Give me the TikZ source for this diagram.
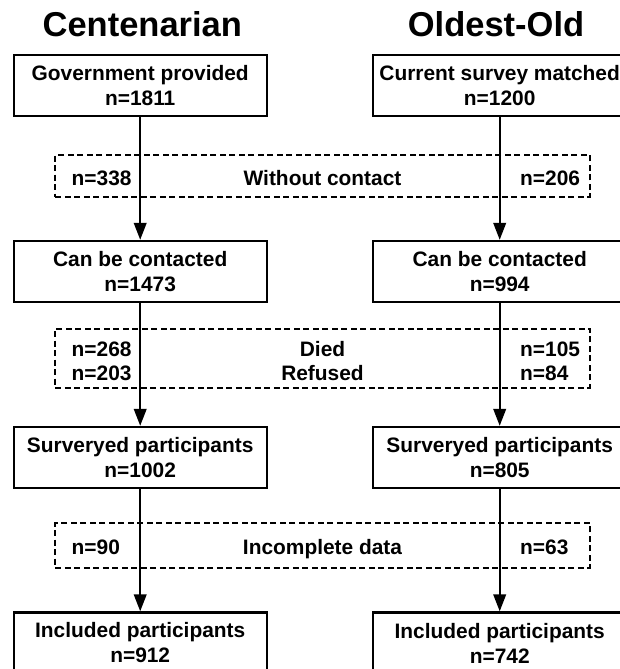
\documentclass[tikz,border=0pt]{standalone}
\usepackage{fontspec}
\setmainfont{Liberation Sans}
\usetikzlibrary{arrows.meta}
\newcommand{\bxfont}{\fontsize{20.9}{25}\selectfont\bfseries}
\newcommand{\ttlfont}{\fontsize{34.5}{40}\selectfont\bfseries}
\begin{document}
\begin{tikzpicture}[x=1pt,y=-1pt,
  box/.style={draw, line width=2.3pt, minimum width=253pt, minimum height=61pt, inner sep=0pt, align=center, font=\bxfont},
  gapbox/.style={draw, line width=2pt, dash pattern=on 6pt off 3.5pt, inner sep=0pt},
  lbl/.style={inner sep=0pt, font=\bxfont, anchor=base west},
  mid/.style={inner sep=0pt, font=\bxfont, anchor=base},
  flow/.style={line width=2.3pt, -{Triangle[length=17pt,width=12.5pt]}},
  title/.style={inner sep=0pt, font=\ttlfont, anchor=base}]
\useasboundingbox (0,0) rectangle (620,669);
\clip (0,0) rectangle (620,669);
% titles
\node[title] (t1) at (142.3,36.7) {Centenarian};
\node[title] (t2) at (496,36.7) {Oldest-Old};
% exclusion boxes
\node[gapbox, minimum width=534.4pt, minimum height=42pt] (g1) at (322.5,176) {};
\node[gapbox, minimum width=534.4pt, minimum height=59pt] (g2) at (322.5,358) {};
\node[gapbox, minimum width=534.4pt, minimum height=45pt] (g3) at (322.5,545.5) {};
% main boxes
\node[box] (c1) at (140.2,85.5) {Government provided\\n=1811};
\node[box] (o1) at (499.7,85.5) {Current survey matched\\n=1200};
\node[box] (c2) at (140.2,271.5) {Can be contacted\\n=1473};
\node[box] (o2) at (499.7,271.5) {Can be contacted\\n=994};
\node[box] (c3) at (140.2,457.5) {Surveryed participants\\n=1002};
\node[box] (o3) at (499.7,457.5) {Surveryed participants\\n=805};
\node[box] (c4) at (140.2,643) {Included participants\\n=912};
\node[box] (o4) at (499.7,643) {Included participants\\n=742};
% labels in exclusion boxes
\node[lbl] (l1) at (71.5,185.3) {n=338};
\node[mid] (m1) at (322.5,185.3) {Without contact};
\node[lbl] (r1) at (520,185.3) {n=206};
\node[lbl] (l2a) at (71.5,356.5) {n=268};
\node[lbl] (l2b) at (71.5,380.5) {n=203};
\node[mid] (m2a) at (322.5,356.5) {Died};
\node[mid] (m2b) at (322.5,380.5) {Refused};
\node[lbl] (r2a) at (520,356.5) {n=105};
\node[lbl] (r2b) at (520,380.5) {n=84};
\node[lbl] (l3) at (71.5,554) {n=90};
\node[mid] (m3) at (322.5,554) {Incomplete data};
\node[lbl] (r3) at (520,554) {n=63};
% arrows
\draw[flow] (c1) -- (c2);
\draw[flow] (c2) -- (c3);
\draw[flow] (c3) -- (c4);
\draw[flow] (o1) -- (o2);
\draw[flow] (o2) -- (o3);
\draw[flow] (o3) -- (o4);
\end{tikzpicture}
\end{document}
